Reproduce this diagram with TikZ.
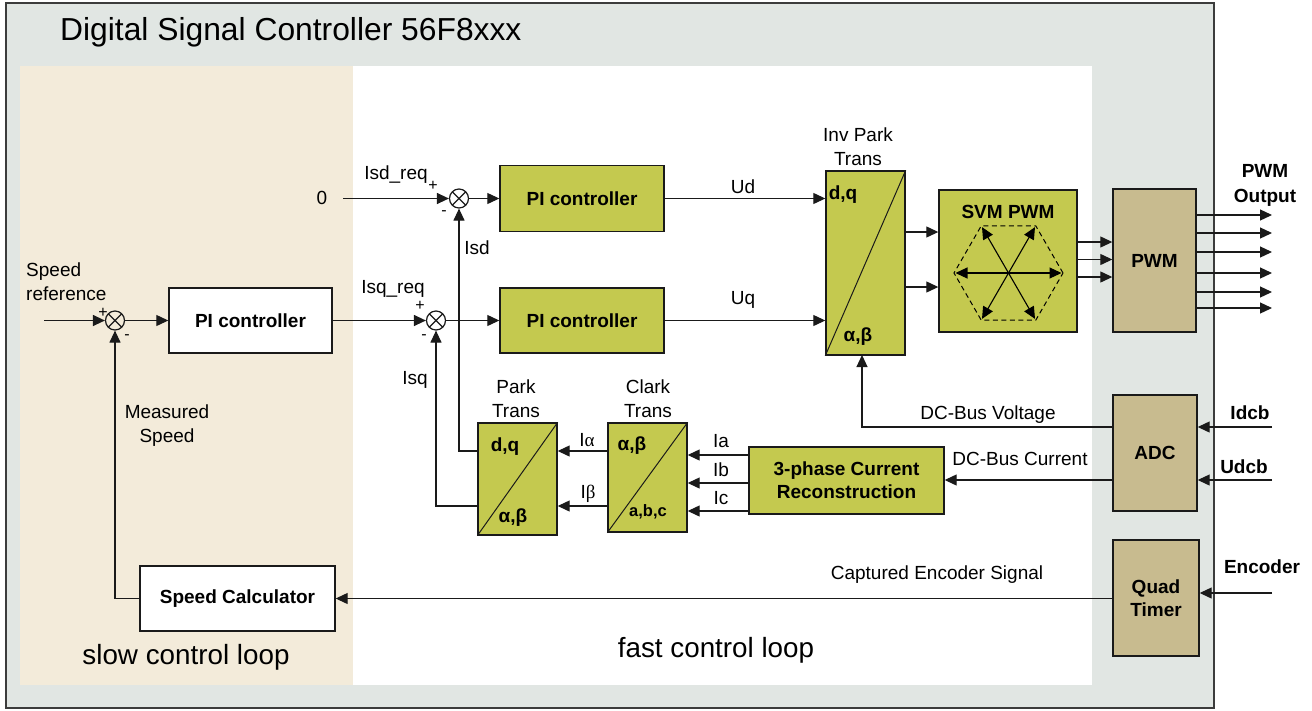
\documentclass[tikz,border=0pt]{standalone}
\usepackage{fontspec}
\setmainfont{Liberation Sans}
\newfontfamily\grk{Liberation Serif}
\usetikzlibrary{arrows.meta,calc}
\definecolor{bggray}{HTML}{E1E6E3}
\definecolor{beige}{HTML}{F3EBDA}
\definecolor{blockgreen}{HTML}{C4C94F}
\definecolor{tanblk}{HTML}{C8BB8F}
\definecolor{edge}{HTML}{1A1A1A}
\begin{document}
\begin{tikzpicture}[x=1pt,y=-1pt,
  tip/.tip={Triangle[length=12pt,width=11pt]},
  arr/.style={line width=1.2pt, draw=edge, -tip},
  ln/.style={line width=1.2pt, draw=edge},
  blk/.style={draw=edge, line width=1.4pt, inner sep=0pt, font=\bfseries\fontsize{19}{23}\selectfont, align=center},
  gblk/.style={blk, fill=blockgreen},
  tblk/.style={blk, fill=tanblk},
  wblk/.style={blk, fill=white},
  lbl/.style={font=\fontsize{19}{24}\selectfont, align=center, inner sep=0pt},
  sgn/.style={font=\fontsize{16}{16}\selectfont, inner sep=0pt},
  blbl/.style={font=\bfseries\fontsize{19}{25}\selectfont, align=center, inner sep=0pt},
  sumj/.style={circle, draw=edge, line width=1.2pt, minimum size=19pt, inner sep=0pt,
    path picture={\draw[line width=1.1pt] ($(path picture bounding box.center)+(45:10pt)$) -- ($(path picture bounding box.center)+(225:10pt)$)
      ($(path picture bounding box.center)+(135:10pt)$) -- ($(path picture bounding box.center)+(-45:10pt)$);}}
]
\useasboundingbox (0,0) rectangle (1312,710);
% backgrounds
\draw[fill=bggray, draw=edge!85, line width=1.5pt] (6,3) rectangle (1214,708);
\fill[beige] (20,66) rectangle (353,685);
\fill[white] (353,66) rectangle (1092,685);
\node[anchor=base west, font=\fontsize{31.8}{36}\selectfont, inner sep=0pt] (title) at (60,40) {Digital Signal Controller 56F8xxx};
\node[font=\fontsize{27.8}{32}\selectfont, inner sep=0pt] (slow) at (186,657) {slow control loop};
\node[font=\fontsize{27.8}{32}\selectfont, inner sep=0pt] (fast) at (716,650) {fast control loop};

% blocks
\node[wblk, minimum width=163pt, minimum height=65pt] (spi) at (250.5,320.5) {PI controller};
\node[gblk, minimum width=164pt, minimum height=66pt] (pid) at (582,198.5) {PI controller};
\node[gblk, minimum width=164pt, minimum height=65pt] (piq) at (582,320.5) {PI controller};
\node[gblk, minimum width=79pt, minimum height=184pt] (invpark) at (865.5,263) {};
\node[gblk, minimum width=138pt, minimum height=142pt] (svm) at (1008,261) {};
\node[tblk, minimum width=83pt, minimum height=143pt] (pwm) at (1154.5,260.5) {PWM};
\node[tblk, minimum width=84pt, minimum height=116pt] (adc) at (1155,453) {ADC};
\node[tblk, minimum width=86pt, minimum height=116pt] (quad) at (1156,598) {Quad\\Timer};
\node[gblk, minimum width=79pt, minimum height=112pt] (park) at (517.5,479) {};
\node[gblk, minimum width=79pt, minimum height=109pt] (clark) at (647.5,477.5) {};
\node[gblk, minimum width=195pt, minimum height=67pt] (cur3) at (846.5,480.5) {3-phase Current\\Reconstruction};
\node[wblk, minimum width=195pt, minimum height=65pt] (scalc) at (237.5,598.5) {Speed Calculator};

% diagonals
\draw[ln, line width=1pt] (invpark.south west) -- (invpark.north east);
\draw[ln, line width=1pt] (park.south west) -- (park.north east);
\draw[ln, line width=1pt] (clark.south west) -- (clark.north east);

% inner block texts
\node[blbl] (ipdq) at (843,195) {d,q};
\node[blbl] (ipab) at (858,337) {α,β};
\node[blbl] (pkdq) at (505,447) {d,q};
\node[blbl] (pkab) at (513,518) {α,β};
\node[blbl] (clab) at (632,446) {α,β};
\node[blbl, font=\bfseries\fontsize{16.5}{20}\selectfont] (clabc) at (648,512) {a,b,c};
\node[blbl] (svmt) at (1008,212) {SVM PWM};

% hexagon
\coordinate (hc) at (1008.5,273);
\draw[dashed, line width=1pt, dash pattern=on 5pt off 3.5pt] ($(hc)+(0:54.5pt)$) -- ($(hc)+(60:54.5pt)$) -- ($(hc)+(120:54.5pt)$) -- ($(hc)+(180:54.5pt)$) -- ($(hc)+(240:54.5pt)$) -- ($(hc)+(300:54.5pt)$) -- cycle;
\draw[line width=1.1pt, tip-tip] ($(hc)+(0:53pt)$) -- ($(hc)+(180:53pt)$);
\draw[line width=1.1pt, tip-tip] ($(hc)+(60:53pt)$) -- ($(hc)+(240:53pt)$);
\draw[line width=1.1pt, tip-tip] ($(hc)+(120:53pt)$) -- ($(hc)+(300:53pt)$);

% summing junctions
\node[sumj] (j1) at (115,320.5) {};
\node[sumj] (j2) at (436,320.5) {};
\node[sumj] (j3) at (459,198.5) {};

% helper coordinates
\coordinate (spin) at (44,320.5);
\coordinate (zero) at (343,198.5);
\coordinate (yIal) at (0,451);
\coordinate (yIbe) at (0,506);
\coordinate (ya) at (0,455);
\coordinate (yb) at (0,483);
\coordinate (yc) at (0,511);
\coordinate (yvolt) at (0,427);
\coordinate (ycur) at (0,480);
\coordinate (yenc) at (0,593);
\coordinate (yinv1) at (0,232);
\coordinate (yinv2) at (0,287);
\coordinate (ys1) at (0,242);
\coordinate (ys2) at (0,259.5);
\coordinate (ys3) at (0,277);
\coordinate (xout) at (1272,0);
\coordinate (vbus) at (862,355);

% connectors
\draw[arr] (spin) -- (j1);
\draw[arr] (j1) -- (spi);
\draw[arr] (scalc.west) -| (j1);
\draw[arr] (spi.east) -- (j2);
\draw[arr] (j2) -- (piq);
\draw[arr] (zero) -- (j3);
\draw[arr] (j3) -- (pid);
\draw[arr] (park.west |- yIal) -| (j3);
\draw[arr] (park.west |- yIbe) -| (j2);
\draw[arr] (clark.west |- yIal) -- (park.east |- yIal);
\draw[arr] (clark.west |- yIbe) -- (park.east |- yIbe);
\draw[arr] (cur3.west |- ya) -- (clark.east |- ya);
\draw[arr] (cur3.west |- yb) -- (clark.east |- yb);
\draw[arr] (cur3.west |- yc) -- (clark.east |- yc);
\draw[arr] (adc.west |- ycur) -- (cur3.east |- ycur);
\draw[arr] (adc.west |- yvolt) -| (vbus);
\draw[arr] (pid.east) -- (invpark.west |- pid.east);
\draw[arr] (piq.east) -- (invpark.west |- piq.east);
\draw[arr] (invpark.east |- yinv1) -- (svm.west |- yinv1);
\draw[arr] (invpark.east |- yinv2) -- (svm.west |- yinv2);
\draw[arr] (svm.east |- ys1) -- (pwm.west |- ys1);
\draw[arr] (svm.east |- ys2) -- (pwm.west |- ys2);
\draw[arr] (svm.east |- ys3) -- (pwm.west |- ys3);
\foreach \yy [count=\k] in {215,233,252,273,292,308} {
  \coordinate (pw\k) at (0,\yy);
  \draw[arr] (pwm.east |- pw\k) -- (xout |- pw\k);
}
\draw[arr] (xout |- yvolt) -- (adc.east |- yvolt);
\draw[arr] (xout |- ycur) -- (adc.east |- ycur);
\draw[arr] (xout |- yenc) -- (quad.east |- yenc);
\draw[arr] (quad.west |- scalc.east) -- (scalc.east);

% labels
\node[lbl, align=left, anchor=west] (lsr) at (26,282) {Speed\\reference};
\node[sgn] (p1) at (103,313) {+};
\node[sgn] (m1) at (127,337) {-};
\node[lbl] (lms) at (167,426) {Measured\\Speed};
\node[lbl] (lisq) at (393,289) {Isq\_req};
\node[sgn] (p2) at (420,306) {+};
\node[sgn] (m2) at (424,337) {-};
\node[lbl] (l0) at (322,198) {0};
\node[lbl] (lisd) at (396,175) {Isd\_req};
\node[sgn] (p3) at (433,186) {+};
\node[sgn] (m3) at (444,213) {-};
\node[lbl] (lIsd) at (477,248) {Isd};
\node[lbl] (lIsq) at (415,380) {Isq};
\node[lbl] (lud) at (743,187) {Ud};
\node[lbl] (luq) at (743,300) {Uq};
\node[lbl] (linv) at (858,147) {Inv Park\\Trans};
\node[lbl] (lpark) at (516,399) {Park\\Trans};
\node[lbl] (lclark) at (648,399) {Clark\\Trans};
\node[lbl] (lia) at (587,440) {I{\grk α}};
\node[lbl] (lib) at (588,494) {I{\grk β}};
\node[lbl] (la) at (721,441) {Ia};
\node[lbl] (lb) at (721,470) {Ib};
\node[lbl] (lc) at (721,498) {Ic};
\node[lbl] (lvolt) at (988,415) {DC-Bus Voltage};
\node[lbl] (lcur) at (1020,459) {DC-Bus Current};
\node[lbl] (lenc) at (937,575) {Captured Encoder Signal};
\node[blbl] (lpwmo) at (1265,185) {PWM\\Output};
\node[blbl] (lidcb) at (1250,413) {Idcb};
\node[blbl] (ludcb) at (1244,467) {Udcb};
\node[blbl] (lencd) at (1262,567) {Encoder};
\end{tikzpicture}
\end{document}
